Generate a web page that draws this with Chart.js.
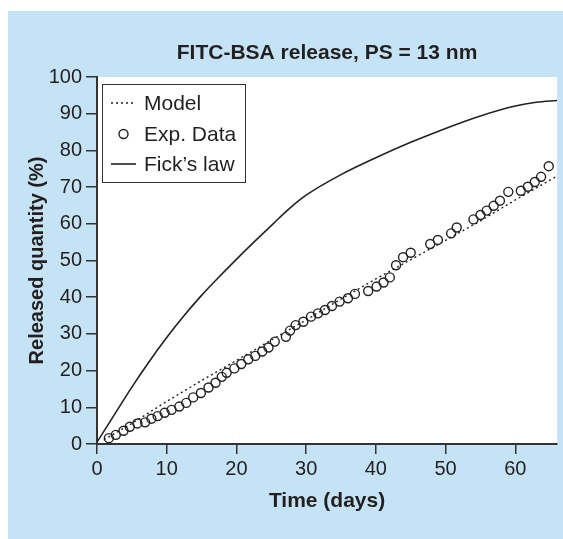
<!DOCTYPE html>
<html>
<head>
<meta charset="utf-8">
<script src="https://cdn.jsdelivr.net/npm/chart.js@4.4.1/dist/chart.umd.min.js"></script>
<style>
  html, body { margin: 0; padding: 0; background: #fff; }
  #wrap { width: 563px; height: 539px; }
</style>
</head>
<body>
<div id="wrap"><canvas id="release-chart" width="563" height="539"></canvas></div>
<script>
// Datos
var expDays = [1.7, 2.7, 3.8, 4.7, 5.8, 6.9, 7.8, 8.7, 9.7, 10.7, 11.8, 12.8, 13.8, 14.9, 16.0, 17.0, 17.9, 18.6, 19.7, 20.7,
  21.7, 22.7, 23.7, 24.6, 25.5, 27.1, 27.7, 28.5, 29.6, 30.7, 31.7, 32.7, 33.7, 34.8, 36.0, 37.0, 38.9, 40.1, 41.1, 42.0,
  42.9, 43.9, 45.0, 47.8, 48.9, 50.8, 51.6, 54.0, 55.0, 55.9, 56.9, 57.8, 59.0, 60.8, 61.8, 62.8, 63.7, 64.8]
var expValues = [1.6, 2.5, 3.6, 4.7, 5.6, 5.9, 6.9, 7.6, 8.5, 9.3, 10.2, 11.2, 12.7, 13.9, 15.4, 16.7, 18.3, 19.4, 20.6, 21.8,
  23.1, 24.0, 25.2, 26.3, 27.9, 29.2, 30.9, 32.4, 33.3, 34.7, 35.6, 36.5, 37.6, 38.8, 39.7, 40.9, 41.7, 42.9, 44.0, 45.4,
  48.7, 50.9, 52.1, 54.5, 55.6, 57.4, 59.0, 61.2, 62.4, 63.6, 64.9, 66.3, 68.7, 69.0, 70.1, 71.4, 72.8, 75.7]

var modelDays = [1, 5, 10, 15, 20, 25, 30, 35, 40, 45, 50, 55, 60, 66]
var modelValues = [1.2, 5.6, 11.6, 17.3, 22.8, 28.3, 33.8, 39.5, 45.0, 50.2, 55.5, 60.8, 66.5, 73.0]

var fickDays = [0, 2.5, 5, 7.5, 10, 12.5, 15, 17.5, 20, 22.5, 25, 27.5, 30, 35, 40, 45, 50, 55, 60, 63, 66]
var fickValues = [0.5, 8, 15.5, 22.5, 29, 35, 40.5, 45.5, 50.3, 55.0, 59.5, 64.0, 67.8, 73.4, 78, 82.2, 86, 89.4, 92.1, 93.1, 93.6]

var xTicks = [0, 10, 20, 30, 40, 50, 60]
var yTicks = [0, 10, 20, 30, 40, 50, 60, 70, 80, 90, 100]

var textColor = '#231f20'
var axisColor = '#333333'
var panelBlue = '#c4e4f5'

function toPoints(xs, ys) {
  return xs.map(function (x, i) { return { x: x, y: ys[i] } })
}

// Fondo azul y área blanca del gráfico
var backgroundPlugin = {
  id: 'panelBackground',
  beforeDraw: function (chart) {
    var ctx = chart.ctx
    var a = chart.chartArea
    ctx.save()
    ctx.fillStyle = '#ffffff'
    ctx.fillRect(0, 0, chart.width, chart.height)
    ctx.fillStyle = panelBlue
    ctx.fillRect(8, 11, chart.width - 8, chart.height - 11)
    ctx.fillStyle = '#ffffff'
    ctx.fillRect(a.left, a.top, a.right - a.left, a.bottom - a.top)
    ctx.restore()
  }
}

// Leyenda dentro del área del gráfico, con recuadro
var boxLegendPlugin = {
  id: 'boxLegend',
  afterDraw: function (chart) {
    var ctx = chart.ctx
    var ds = chart.data.datasets
    var box = { x: 102.5, y: 84.5, w: 143, h: 98 }
    var rows = [103, 134, 164]
    ctx.save()
    ctx.fillStyle = '#ffffff'
    ctx.fillRect(box.x, box.y, box.w, box.h)
    ctx.strokeStyle = axisColor
    ctx.lineWidth = 1
    ctx.strokeRect(box.x, box.y, box.w, box.h)
    ds.forEach(function (d, i) {
      var y = rows[i]
      ctx.strokeStyle = d.borderColor
      ctx.lineWidth = d.borderWidth
      if (d.showLine) {
        ctx.setLineDash(d.borderDash || [])
        ctx.beginPath()
        ctx.moveTo(111, y)
        ctx.lineTo(136, y)
        ctx.stroke()
        ctx.setLineDash([])
      } else {
        ctx.beginPath()
        ctx.arc(123.5, y, d.pointRadius, 0, Math.PI * 2)
        ctx.stroke()
      }
      ctx.fillStyle = textColor
      ctx.font = '21px "Liberation Sans", Arial, sans-serif'
      ctx.textBaseline = 'middle'
      ctx.textAlign = 'left'
      ctx.fillText(d.label, 144, y + 1)
    })
    ctx.restore()
  }
}

var ctx = document.getElementById('release-chart').getContext('2d')

var releaseChart = new Chart(ctx, {
  type: 'scatter',
  data: {
    datasets: [
      {
        label: 'Model',
        data: toPoints(modelDays, modelValues),
        showLine: true,
        borderColor: '#222222',
        borderWidth: 1.4,
        borderDash: [2, 3],
        pointRadius: 0,
        fill: false
      },
      {
        label: 'Exp. Data',
        data: toPoints(expDays, expValues),
        showLine: false,
        borderColor: '#222222',
        backgroundColor: 'rgba(0,0,0,0)',
        borderWidth: 1.4,
        pointRadius: 4.5
      },
      {
        label: 'Fick\u2019s law',
        data: toPoints(fickDays, fickValues),
        showLine: true,
        borderColor: '#222222',
        borderWidth: 1.6,
        pointRadius: 0,
        cubicInterpolationMode: 'monotone',
        fill: false
      }
    ]
  },
  options: {
    responsive: false,
    animation: false,
    layout: { padding: { top: 10, right: 5, left: 0, bottom: 0 } },
    plugins: {
      legend: { display: false },
      tooltip: { enabled: false },
      title: {
        display: true,
        text: 'FITC-BSA release, PS = 13 nm',
        fullSize: false,
        color: textColor,
        font: { family: '"Liberation Sans", Arial, sans-serif', size: 21, weight: 'bold' },
        padding: { top: 31, bottom: 10.8 }
      }
    },
    scales: {
      x: {
        type: 'linear',
        min: 0,
        max: 66,
        afterBuildTicks: function (scale) {
          scale.ticks = xTicks.map(function (v) { return { value: v } })
        },
        afterFit: function (scale) { scale.height = 95 },
        grid: { drawOnChartArea: false, drawTicks: true, tickLength: 10, color: axisColor, lineWidth: 1.5 },
        border: { display: true, color: axisColor, width: 2 },
        ticks: {
          color: textColor,
          padding: 3,
          font: { family: '"Liberation Sans", Arial, sans-serif', size: 20 }
        },
        title: {
          display: true,
          text: 'Time (days)',
          color: textColor,
          font: { family: '"Liberation Sans", Arial, sans-serif', size: 21, weight: 'bold' },
          padding: { top: 0, bottom: 25 }
        }
      },
      y: {
        type: 'linear',
        min: 0,
        max: 100,
        afterBuildTicks: function (scale) {
          scale.ticks = yTicks.map(function (v) { return { value: v } })
        },
        afterFit: function (scale) { scale.width = 97 },
        grid: { drawOnChartArea: false, drawTicks: true, tickLength: 11, color: axisColor, lineWidth: 1.5 },
        border: { display: true, color: axisColor, width: 2 },
        ticks: {
          color: textColor,
          padding: 4,
          font: { family: '"Liberation Sans", Arial, sans-serif', size: 20 }
        },
        title: {
          display: true,
          text: 'Released quantity (%)',
          color: textColor,
          font: { family: '"Liberation Sans", Arial, sans-serif', size: 20, weight: 'bold' },
          padding: { top: 25, bottom: 0 }
        }
      }
    }
  },
  plugins: [backgroundPlugin, boxLegendPlugin]
})
</script>
</body>
</html>
